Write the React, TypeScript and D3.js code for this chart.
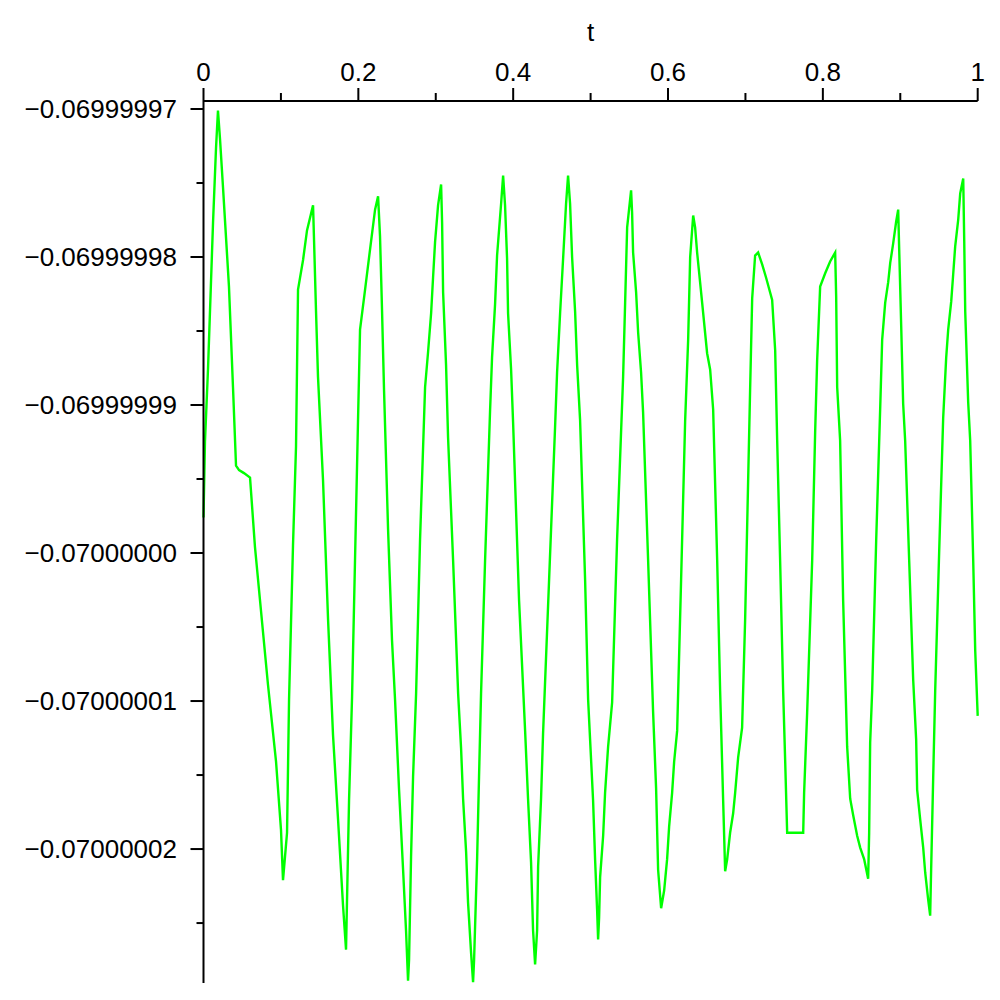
import React from "react";
import * as d3 from "d3";

// sample times (t)
const tValues = [
  0, 0.0019, 0.0058, 0.0123, 0.0162, 0.0187, 0.0213, 0.0252, 0.0329, 0.0381,
  0.042, 0.0459, 0.0523, 0.0601, 0.0665, 0.0833, 0.0937, 0.1001, 0.1027, 0.1079,
  0.1105, 0.1156, 0.1195, 0.1221, 0.1286, 0.1337, 0.1415, 0.1428, 0.1453, 0.1479,
  0.1544, 0.1609, 0.1673, 0.1738, 0.1802, 0.1841, 0.1854, 0.188, 0.1919, 0.1957,
  0.1996, 0.2022, 0.2087, 0.2151, 0.2216, 0.2255, 0.228, 0.2306, 0.2332, 0.2384,
  0.2435, 0.2474, 0.2526, 0.2578, 0.2616, 0.2642, 0.2655, 0.2681, 0.2707, 0.2746,
  0.2797, 0.2862, 0.2901, 0.294, 0.2965, 0.2991, 0.303, 0.3069, 0.3082, 0.3095,
  0.3133, 0.3159, 0.3224, 0.3289, 0.3327, 0.3353, 0.3392, 0.3417, 0.3456, 0.3482,
  0.3495, 0.3534, 0.3559, 0.3585, 0.3637, 0.3702, 0.3727, 0.3766, 0.3792, 0.3844,
  0.387, 0.3895, 0.3921, 0.3934, 0.3973, 0.3999, 0.4076, 0.4154, 0.4192, 0.4231,
  0.4257, 0.4283, 0.4309, 0.4322, 0.436, 0.4386, 0.4464, 0.4541, 0.4567, 0.4606,
  0.4645, 0.4683, 0.4709, 0.4735, 0.4761, 0.48, 0.4826, 0.4864, 0.4929, 0.4968,
  0.5032, 0.5058, 0.5084, 0.5097, 0.511, 0.5123, 0.5162, 0.5187, 0.5226, 0.5278,
  0.5342, 0.542, 0.5446, 0.5472, 0.5523, 0.5536, 0.5549, 0.5588, 0.5614, 0.5652,
  0.5678, 0.5743, 0.5807, 0.5846, 0.5872, 0.5911, 0.595, 0.5988, 0.6014, 0.6053,
  0.6079, 0.6118, 0.6169, 0.6221, 0.626, 0.6286, 0.6325, 0.635, 0.6376, 0.6441,
  0.6505, 0.6544, 0.6583, 0.6635, 0.6673, 0.6712, 0.6738, 0.6764, 0.6802, 0.6841,
  0.6867, 0.6906, 0.6957, 0.6996, 0.7061, 0.7087, 0.7125, 0.7164, 0.7216, 0.7267,
  0.7319, 0.7345, 0.7384, 0.741, 0.7448, 0.7487, 0.7513, 0.7539, 0.7746, 0.7758,
  0.7797, 0.7862, 0.7901, 0.7926, 0.7965, 0.803, 0.8094, 0.8159, 0.8172, 0.8185,
  0.8223, 0.8262, 0.8314, 0.8353, 0.8391, 0.8443, 0.8482, 0.8534, 0.8585, 0.8598,
  0.8611, 0.8637, 0.8689, 0.874, 0.8766, 0.8805, 0.8844, 0.887, 0.8908, 0.8947,
  0.8973, 0.8986, 0.9012, 0.9037, 0.9063, 0.9115, 0.9167, 0.9205, 0.9218, 0.9257,
  0.9296, 0.9322, 0.936, 0.9386, 0.9399, 0.9425, 0.9451, 0.9503, 0.9554, 0.9593,
  0.9619, 0.9658, 0.9683, 0.9709, 0.9748, 0.9774, 0.9813, 0.9826, 0.9839, 0.9877,
  0.9903, 0.9942, 0.9968, 1.0,
];

// function values at those times
const yValues = [
  -0.0699999976, -0.0699999925, -0.0699999876, -0.0699999777, -0.0699999726,
  -0.0699999701, -0.069999972, -0.0699999753, -0.069999982, -0.0699999888,
  -0.0699999941, -0.0699999944, -0.0699999946, -0.0699999949, -0.0699999996,
  -0.0700000089, -0.0700000141, -0.0700000187, -0.0700000221, -0.0700000189,
  -0.0700000099, -0.0699999995, -0.0699999928, -0.0699999822, -0.0699999802,
  -0.0699999782, -0.0699999765, -0.0699999789, -0.0699999836, -0.0699999881,
  -0.0699999951, -0.0700000045, -0.0700000123, -0.070000018, -0.0700000238,
  -0.0700000268, -0.0700000234, -0.0700000167, -0.0700000097, -0.0700000005,
  -0.069999991, -0.0699999849, -0.0699999822, -0.0699999795, -0.0699999768,
  -0.0699999759, -0.0699999786, -0.0699999836, -0.069999989, -0.0699999984,
  -0.0700000059, -0.0700000099, -0.070000016, -0.0700000214, -0.0700000255,
  -0.0700000289, -0.0700000275, -0.0700000205, -0.0700000151, -0.0700000095,
  -0.0699999991, -0.0699999888, -0.0699999864, -0.0699999838, -0.0699999814,
  -0.069999979, -0.0699999765, -0.0699999751, -0.0699999777, -0.0699999824,
  -0.0699999873, -0.0699999922, -0.0700000005, -0.0700000095, -0.0700000132,
  -0.0700000166, -0.0700000202, -0.0700000236, -0.070000027, -0.070000029,
  -0.0700000275, -0.0700000207, -0.0700000151, -0.0700000095, -0.0700000005,
  -0.0699999903, -0.0699999868, -0.0699999832, -0.0699999799, -0.0699999764,
  -0.0699999745, -0.0699999765, -0.0699999801, -0.0699999838, -0.0699999876,
  -0.0699999912, -0.0700000032, -0.070000012, -0.0700000166, -0.0700000209,
  -0.0700000255, -0.0700000278, -0.0700000255, -0.0700000212, -0.0700000166,
  -0.0700000122, -0.0700000018, -0.0699999915, -0.0699999878, -0.0699999838,
  -0.0699999801, -0.0699999764, -0.0699999745, -0.0699999764, -0.06999998,
  -0.0699999837, -0.0699999873, -0.069999991, -0.0700000018, -0.0700000099,
  -0.0700000167, -0.0700000207, -0.0700000241, -0.0700000261, -0.0700000246,
  -0.0700000219, -0.0700000191, -0.0700000162, -0.0700000131, -0.0700000101,
  -0.0699999991, -0.0699999881, -0.0699999831, -0.069999978, -0.0699999755,
  -0.069999977, -0.0699999797, -0.0699999824, -0.0699999851, -0.0699999878,
  -0.0699999905, -0.0700000005, -0.0700000107, -0.0700000159, -0.0700000214,
  -0.070000024, -0.0700000228, -0.0700000207, -0.0700000185, -0.0700000162,
  -0.0700000141, -0.070000012, -0.0700000018, -0.0699999911, -0.0699999856,
  -0.06999998, -0.0699999772, -0.069999978, -0.0699999797, -0.0699999831,
  -0.0699999865, -0.0699999876, -0.0699999903, -0.0700000005, -0.0700000093,
  -0.0700000167, -0.0700000215, -0.0700000207, -0.0700000189, -0.0700000176,
  -0.0700000162, -0.0700000138, -0.0700000118, -0.0700000045, -0.0699999888,
  -0.0699999828, -0.0699999799, -0.0699999797, -0.0699999805, -0.0699999814,
  -0.0699999824, -0.0699999829, -0.0699999863, -0.0699999924, -0.0700000005,
  -0.0700000093, -0.070000014, -0.0700000189, -0.0700000189, -0.0700000162,
  -0.0700000108, -0.0700000005, -0.0699999917, -0.069999987, -0.069999982,
  -0.0699999811, -0.0699999803, -0.0699999797, -0.0699999827, -0.0699999888,
  -0.0699999924, -0.0700000032, -0.0700000131, -0.0700000166, -0.0700000177,
  -0.0700000191, -0.0700000199, -0.0700000207, -0.070000022, -0.0700000189,
  -0.0700000128, -0.0700000093, -0.0699999991, -0.0699999903, -0.0699999856,
  -0.0699999831, -0.0699999817, -0.0699999804, -0.0699999791, -0.0699999776,
  -0.0699999768, -0.0699999795, -0.0699999847, -0.0699999899, -0.0699999924,
  -0.0700000005, -0.0700000086, -0.0700000126, -0.070000016, -0.070000018,
  -0.0700000199, -0.0700000216, -0.0700000234, -0.0700000245, -0.0700000213,
  -0.0700000152, -0.0700000093, -0.0699999998, -0.0699999909, -0.0699999868,
  -0.0699999849, -0.069999983, -0.0699999812, -0.0699999793, -0.0699999775,
  -0.0699999757, -0.0699999747, -0.0699999789, -0.0699999837, -0.0699999898,
  -0.0699999924, -0.0700000005, -0.0700000066, -0.070000011,
];

const xTicks = [0, 0.2, 0.4, 0.6, 0.8, 1];
const xTickLabels = ["0", "0.2", "0.4", "0.6", "0.8", "1"];
const xMinorTicks = [0.1, 0.3, 0.5, 0.7, 0.9];

const yTicks = [
  -0.06999997, -0.06999998, -0.06999999, -0.07, -0.07000001, -0.07000002,
];
const yTickLabels = [
  "\u22120.06999997",
  "\u22120.06999998",
  "\u22120.06999999",
  "\u22120.07000000",
  "\u22120.07000001",
  "\u22120.07000002",
];
const yMinorTicks = [
  -0.069999975, -0.069999985, -0.069999995, -0.070000005, -0.070000015,
  -0.070000025,
];

const xTitle = "t";

const font = "'Liberation Sans', Arial, sans-serif";

export default function App() {
  const x = d3.scaleLinear().domain([0, 1]).range([203.5, 977.7]);
  const y = d3
    .scaleLinear()
    .domain([-0.07000002905, -0.06999996946])
    .range([983, 101]);

  const pts: [number, number][] = tValues.map((t, i) => [t, yValues[i]]);
  const line = d3
    .line<[number, number]>()
    .x((d) => x(d[0]))
    .y((d) => y(d[1]));

  const axisY = y.range()[1];
  const axisX = x.range()[0];

  return (
    <svg
      width={1000}
      height={1000}
      style={{ position: "absolute", left: 0, top: 0, background: "#fff" }}
    >
      {/* curve */}
      <path
        d={line(pts) || ""}
        fill="none"
        stroke="#00ff00"
        strokeWidth={2.4}
        strokeLinejoin="miter"
      />

      {/* horizontal axis along the top */}
      <line
        x1={x.range()[0]}
        x2={x.range()[1]}
        y1={axisY}
        y2={axisY}
        stroke="#000"
        strokeWidth={2}
      />
      {xTicks.map((t) => (
        <line
          key={"xt" + t}
          x1={x(t)}
          x2={x(t)}
          y1={axisY}
          y2={axisY - 13}
          stroke="#000"
          strokeWidth={2}
        />
      ))}
      {xMinorTicks.map((t) => (
        <line
          key={"xm" + t}
          x1={x(t)}
          x2={x(t)}
          y1={axisY}
          y2={axisY - 8}
          stroke="#000"
          strokeWidth={2}
        />
      ))}
      {xTicks.map((t, i) => (
        <text
          key={"xl" + t}
          x={x(t)}
          y={81}
          textAnchor="middle"
          fontFamily={font}
          fontSize={26}
          fill="#000"
        >
          {xTickLabels[i]}
        </text>
      ))}
      <text
        x={(x.range()[0] + x.range()[1]) / 2}
        y={41}
        textAnchor="middle"
        fontFamily={font}
        fontSize={26}
        fill="#000"
      >
        {xTitle}
      </text>

      {/* vertical axis */}
      <line
        x1={axisX}
        x2={axisX}
        y1={y.range()[0]}
        y2={y.range()[1]}
        stroke="#000"
        strokeWidth={2}
      />
      {yTicks.map((v) => (
        <line
          key={"yt" + v}
          x1={axisX}
          x2={axisX - 13}
          y1={y(v)}
          y2={y(v)}
          stroke="#000"
          strokeWidth={2}
        />
      ))}
      {yMinorTicks.map((v) => (
        <line
          key={"ym" + v}
          x1={axisX}
          x2={axisX - 7}
          y1={y(v)}
          y2={y(v)}
          stroke="#000"
          strokeWidth={2}
        />
      ))}
      {yTicks.map((v, i) => (
        <text
          key={"yl" + v}
          x={177}
          y={y(v)}
          dy="0.36em"
          textAnchor="end"
          fontFamily={font}
          fontSize={26}
          fill="#000"
        >
          {yTickLabels[i]}
        </text>
      ))}
    </svg>
  );
}
